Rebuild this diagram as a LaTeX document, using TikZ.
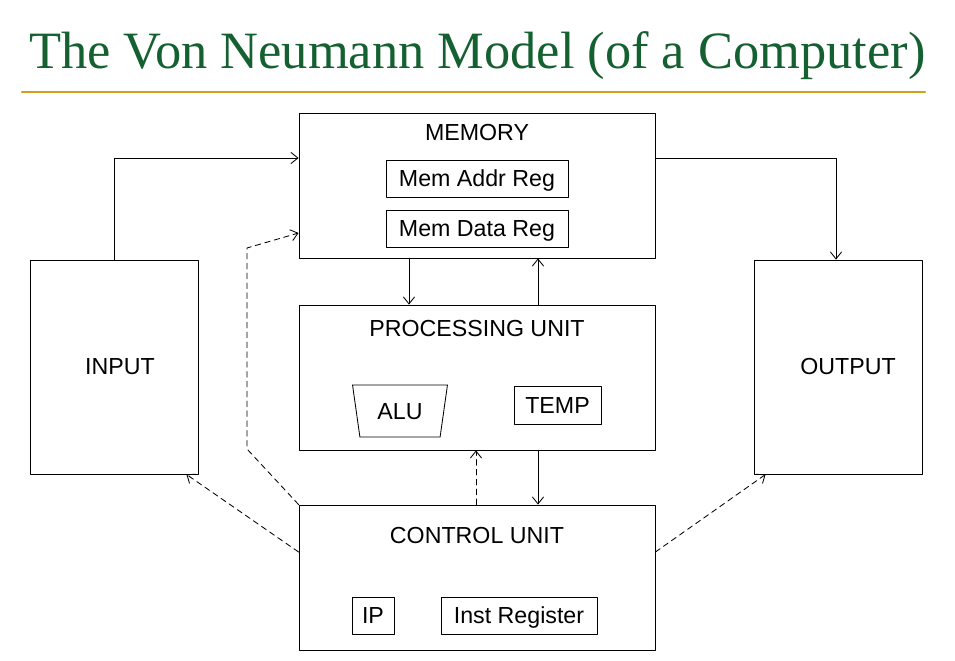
\documentclass[tikz,border=0pt]{standalone}
\usepackage{fontspec}
\setmainfont{Liberation Serif}
\setsansfont{Liberation Sans}
\usetikzlibrary{shapes.geometric,arrows.meta}

\definecolor{titlegreen}{RGB}{20,96,48}
\definecolor{rulegold}{RGB}{212,160,23}

\begin{document}
\begin{tikzpicture}[x=0.025cm, y=-0.025cm, line cap=round, line join=round,
  box/.style={draw, line width=0.6pt, inner sep=0pt},
  txt/.style={font=\sffamily\fontsize{16.5}{20}\selectfont, text height=11.8pt, text depth=0pt},
  flow/.style={-{Straight Barb[length=5pt, width=8pt]}, line width=0.6pt},
  ctrl/.style={flow, dash pattern=on 4pt off 3pt}]

% ----------------- Parameters (pixel units) -----------------
\def\px{0.025cm}     % one pixel of the reference
\def\uw{356}         % width of the three central units
\def\uh{145}         % height of the three central units

\useasboundingbox (0,0) rectangle (955,661);

% ----------------- Title and rule -----------------
\node[anchor=base west, inner sep=0pt, text=titlegreen,
      font=\fontsize{37.3}{40}\selectfont] (title) at (29,69)
  {The Von Neumann Model (of a Computer)};
\draw[rulegold, line width=1.5pt] (22,92) -- (925,92);

% ----------------- Central units -----------------
\node[box, minimum width=\uw*\px, minimum height=\uh*\px] (mem) at (477,185.5) {};
\node[box, minimum width=\uw*\px, minimum height=\uh*\px] (pu)  at (477,377.5) {};
\node[box, minimum width=\uw*\px, minimum height=\uh*\px] (cu)  at (477,577.5) {};

\node[txt] (memlbl) at (477,132) {MEMORY};
\node[txt] (pulbl)  at (477,328) {PROCESSING UNIT};
\node[txt] (culbl)  at (477,535) {CONTROL UNIT};

% ----------------- Registers -----------------
\node[box, txt, minimum width=182*\px, minimum height=37*\px] (mar) at (477,178.5) {Mem Addr Reg};
\node[box, txt, minimum width=182*\px, minimum height=37*\px] (mdr) at (477,228.5) {Mem Data Reg};

\node[box, txt, trapezium, shape border rotate=180, trapezium stretches=true,
      trapezium left angle=76, trapezium right angle=76,
      minimum width=95*\px, minimum height=52*\px] (alu) at (400,411) {ALU};
\node[box, txt, minimum width=87*\px, minimum height=38*\px] (temp) at (557.5,405) {TEMP};

\node[box, txt, minimum width=42*\px, minimum height=37*\px] (ip) at (373,615.5) {IP};
\node[box, txt, minimum width=156*\px, minimum height=37*\px] (ir) at (519,615.5) {Inst Register};

% ----------------- Input / Output -----------------
\node[box, minimum width=168*\px, minimum height=214*\px] (in)  at (114,367) {};
\node[box, minimum width=168*\px, minimum height=214*\px] (out) at (838,367) {};
\node[txt] (inlbl)  at (120,366) {INPUT};
\node[txt] (outlbl) at (848,366) {OUTPUT};

% ----------------- Data paths -----------------
\draw[flow] (in.north) |- ([yshift=27.5*\px]mem.west);
\draw[flow] ([yshift=27.5*\px]mem.east) -| ([xshift=-2*\px]out.north);
\draw[flow] ([xshift=-68*\px]mem.south) -- ([xshift=-68*\px]pu.north);
\draw[flow] ([xshift=61*\px]pu.north) -- ([xshift=61*\px]mem.south);
\draw[flow] ([xshift=61*\px]pu.south) -- ([xshift=61*\px]cu.north);

% ----------------- Control paths -----------------
\coordinate (bendlo) at (247,449);
\coordinate (bendhi) at (247,248);
\draw[ctrl] ([xshift=-1*\px]cu.north) -- ([xshift=-1*\px]pu.south);
\draw[ctrl] (cu.north west) -- (bendlo) -- (bendhi) -- ([yshift=-47.5*\px]mem.west);
\draw[ctrl] ([yshift=25.5*\px]cu.west) -- ([xshift=-12*\px]in.south east);
\draw[ctrl] ([yshift=25.5*\px]cu.east) -- ([xshift=12*\px]out.south west);

\end{tikzpicture}
\end{document}
